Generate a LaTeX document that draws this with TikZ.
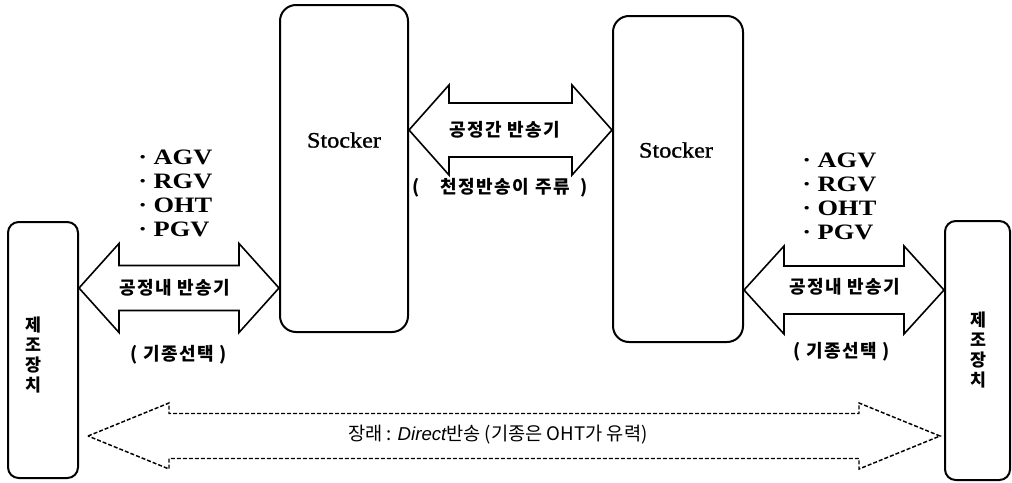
\documentclass[tikz,border=0pt]{standalone}
\usepackage{fontspec}
\setmainfont{Liberation Serif}
\newfontfamily\kr{Noto Sans CJK KR}
\newfontfamily\krs{Noto Sans CJK KR}[LetterSpace=8]
\newfontfamily\serw{Liberation Serif}[FakeStretch=1.2]
\newfontfamily\serwb{Liberation Serif}[FakeStretch=1.1,FakeBold=1.2]
\newfontfamily\sansi{Liberation Sans}
\usetikzlibrary{calc}
\newcommand\blockarrow[6]{%
  \draw[#1] (#2) -- ($(#2)+(#4,-#6)$) -- ($(#2)+(#4,-#5)$) -- ($(#3)+(-#4,-#5)$)
    -- ($(#3)+(-#4,-#6)$) -- (#3) -- ($(#3)+(-#4,#6)$) -- ($(#3)+(-#4,#5)$)
    -- ($(#2)+(#4,#5)$) -- ($(#2)+(#4,#6)$) -- cycle;}
\tikzset{
  box/.style={draw, line width=1.5pt, rounded corners=8pt, inner sep=0pt},
  stockerbox/.style={box, rounded corners=12pt},
  blk/.style={line width=1.2pt, line join=miter},
  dashblk/.style={line width=1.1pt, dash pattern=on 3pt off 1.5pt},
  lbl/.style={font=\krs\bfseries\fontsize{13.5}{15}\selectfont, inner sep=0pt},
  vlbl/.style={font=\kr\bfseries\fontsize{13}{15}\selectfont, inner sep=0pt, align=center},
  stk/.style={font=\serwb\fontsize{16.5}{18}\selectfont, inner sep=0pt},
  lst/.style={font=\serw\bfseries\fontsize{16.5}{18}\selectfont, inner sep=0pt, align=left, anchor=west},
  dlbl/.style={font=\kr\fontsize{14}{16}\selectfont, inner sep=0pt}
}
\begin{document}
\begin{tikzpicture}[x=0.75pt,y=-0.75pt]
\useasboundingbox (0,0) rectangle (1012,482);
% boxes
\node[box, minimum width=52.5pt, minimum height=192pt] (mfgL) at (43,350) {};
\node[box, minimum width=48.75pt, minimum height=194.25pt] (mfgR) at (977.5,350.5) {};
\node[stockerbox, minimum width=96pt, minimum height=245.25pt] (stockL) at (344,168.5) {};
\node[stockerbox, minimum width=97.5pt, minimum height=244.5pt] (stockR) at (678,179) {};
% box texts
\node[vlbl] (mfgLt) at (33,355) {제\\조\\장\\치};
\node[vlbl] (mfgRt) at (978,350) {제\\조\\장\\치};
\node[stk] (stockLt) at (344,140) {Stocker};
\node[stk] (stockRt) at (676,150) {Stocker};
% vehicle lists
\node[lst] (listL) at (138,193) {·\ AGV\\·\ RGV\\·\ OHT\\·\ PGV};
\node[lst] (listR) at (802,196) {·\ AGV\\·\ RGV\\·\ OHT\\·\ PGV};
% arrow tips
\coordinate (a1l) at (mfgL.east |- 0,288);
\coordinate (a1r) at (stockL.west |- 0,288);
\coordinate (a2l) at (stockL.east |- 0,130);
\coordinate (a2r) at (stockR.west |- 0,130);
\coordinate (a3l) at (stockR.east |- 0,290);
\coordinate (a3r) at (mfgR.west |- 0,290);
\coordinate (d1l) at (88,436);
\coordinate (d1r) at (940,436);
\blockarrow{blk}{a1l}{a1r}{40}{22.5}{44.5}
\blockarrow{blk}{a2l}{a2r}{40}{27}{45}
\blockarrow{blk}{a3l}{a3r}{40}{24}{44}
\blockarrow{dashblk}{d1l}{d1r}{81}{22.5}{33}
% arrow labels
\node[lbl] (a1t) at (175,288) {공정내 반송기};
\node[lbl] (a1s) at (179,355) {(\ 기종선택\ )};
\node[lbl] (a2t) at (505,130) {공정간 반송기};
\node[lbl] (a2s) at (500,188) {(\hspace{16pt}천정반송이 주류\hspace{8pt})};
\node[lbl] (a3t) at (845,287) {공정내 반송기};
\node[lbl] (a3s) at (842,352) {(\ 기종선택\ )};
\node[dlbl] (d1t) at (498,435) {장래 : {\sansi\itshape Direct}반송 (기종은 OHT가 유력)};
\end{tikzpicture}
\end{document}
